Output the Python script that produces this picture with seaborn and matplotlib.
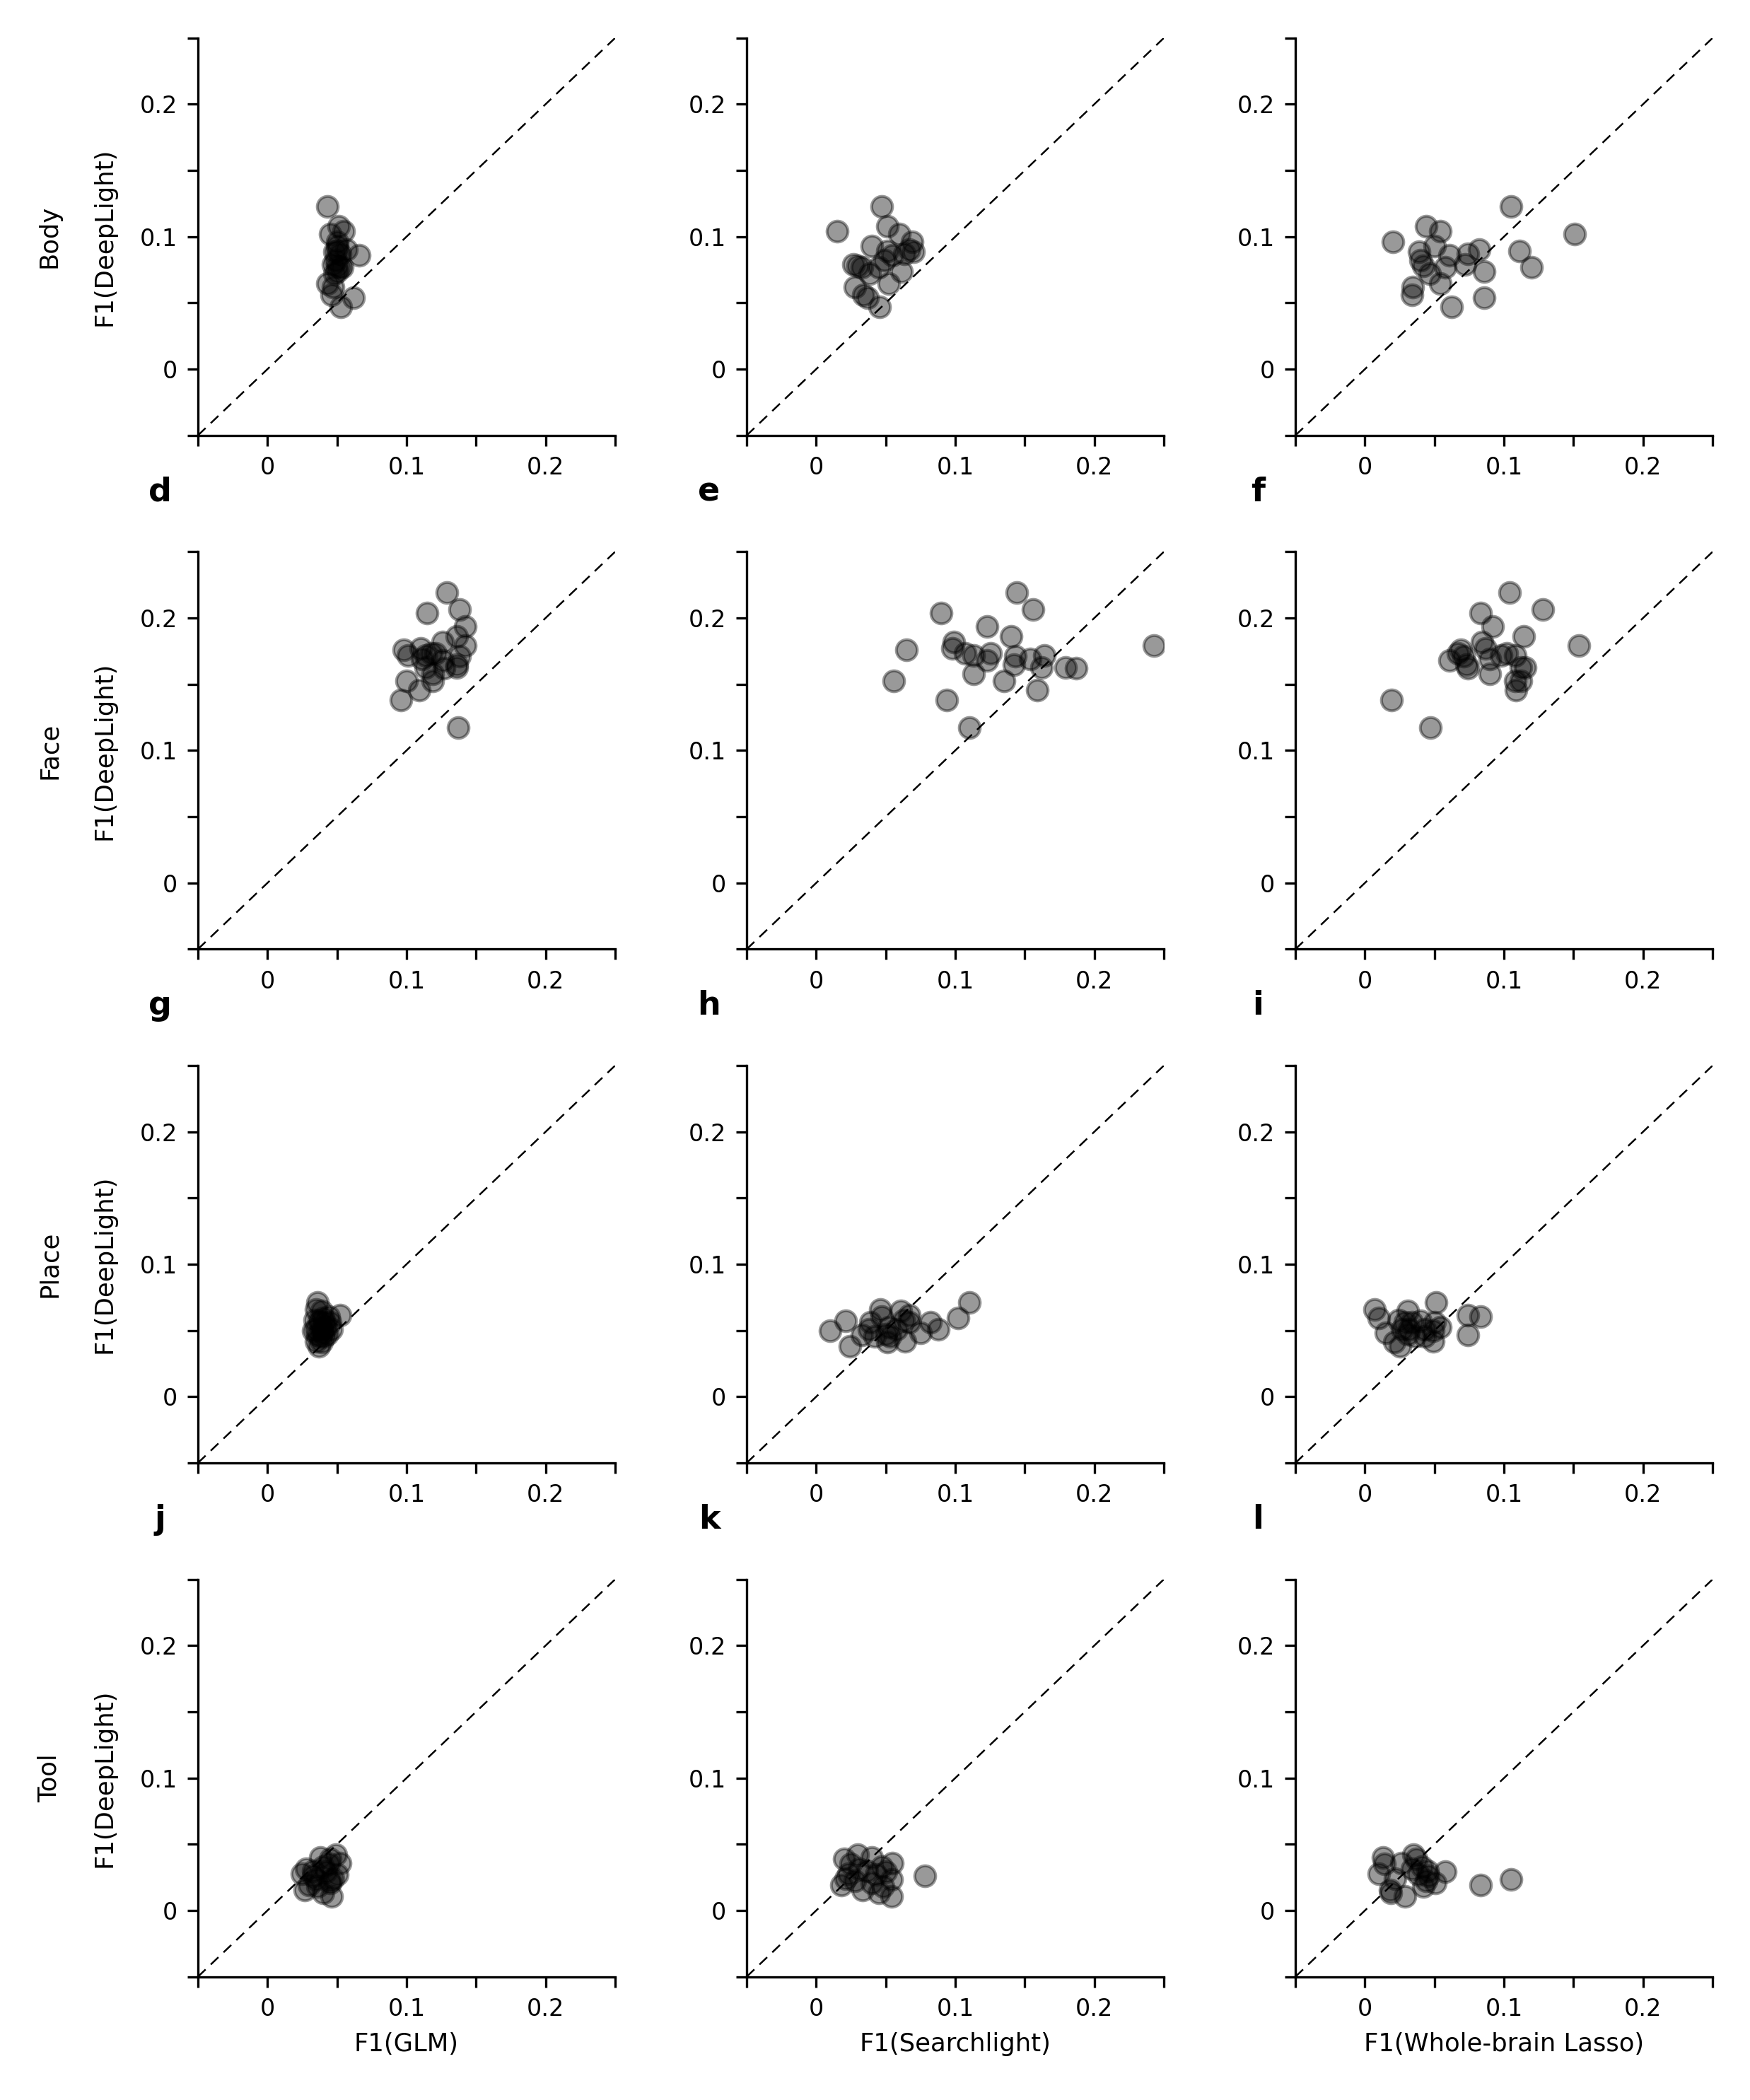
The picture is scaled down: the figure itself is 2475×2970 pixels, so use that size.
import numpy as np
import pandas as pd
import matplotlib
matplotlib.use("Agg")
import matplotlib.pyplot as plt
import seaborn as sns

sns.set_style("ticks")
plt.rcParams['font.family'] = ['DejaVu Sans']
for key in ['text.color', 'axes.labelcolor', 'xtick.color', 'ytick.color', 'axes.edgecolor']:
    plt.rcParams[key] = 'black'

FONT_SIZE = 8
LABEL_SIZE = 8.5
LETTER_SIZE = 11

# ============================================================
# data: F1 scores per subject, one list per row / method
# ============================================================
categories = ["Body", "Face", "Place", "Tool"]
methods = ["GLM", "Searchlight", "Whole-brain Lasso"]
panel_letters = [None, None, None, "d", "e", "f", "g", "h", "i", "j", "k", "l"]
tick_values = [-0.05, 0.0, 0.05, 0.1, 0.15, 0.2, 0.25]
tick_labels = ["", "0", "", "0.1", "", "0.2", ""]

# Body
body_deeplight = [0.123, 0.108, 0.104, 0.102, 0.096, 0.093, 0.0905, 0.089, 0.0887, 0.0868, 0.086, 0.0825,
                  0.079, 0.078, 0.077, 0.0767, 0.0737, 0.0719, 0.0648, 0.0621, 0.0559, 0.054, 0.047]
body_glm = [0.043, 0.051, 0.055, 0.045, 0.050, 0.050, 0.057, 0.050, 0.048, 0.052, 0.066, 0.049,
            0.047, 0.050, 0.052, 0.054, 0.050, 0.048, 0.043, 0.047, 0.046, 0.062, 0.053]
body_searchlight = [0.047, 0.051, 0.015, 0.060, 0.069, 0.040, 0.067, 0.051, 0.070, 0.0635, 0.055, 0.049,
                    0.027, 0.030, 0.045, 0.033, 0.0615, 0.0386, 0.0524, 0.0276, 0.034, 0.037, 0.0457]
body_lasso = [0.105, 0.044, 0.054, 0.151, 0.020, 0.050, 0.082, 0.111, 0.039, 0.074, 0.061, 0.040,
              0.072, 0.042, 0.120, 0.058, 0.0855, 0.0467, 0.054, 0.0346, 0.034, 0.0855, 0.0624]

# Face
face_deeplight = [0.219, 0.204, 0.2065, 0.1935, 0.186, 0.179, 0.182, 0.176, 0.177, 0.1735, 0.172, 0.1735, 0.168,
                  0.171, 0.172, 0.1646, 0.169, 0.1628, 0.1628, 0.162, 0.158, 0.1526, 0.1526, 0.1454, 0.1383, 0.1175]
face_glm = [0.129, 0.115, 0.138, 0.142, 0.136, 0.142, 0.126, 0.098, 0.110, 0.118, 0.101, 0.121, 0.126,
            0.138, 0.114, 0.136, 0.111, 0.136, 0.114, 0.127, 0.119, 0.100, 0.119, 0.109, 0.096, 0.137]
face_searchlight = [0.144, 0.090, 0.156, 0.123, 0.140, 0.243, 0.099, 0.065, 0.098, 0.107, 0.113, 0.1255, 0.123,
                    0.143, 0.164, 0.142, 0.154, 0.162, 0.1795, 0.187, 0.113, 0.135, 0.056, 0.159, 0.094, 0.110]
face_lasso = [0.104, 0.083, 0.128, 0.092, 0.114, 0.154, 0.084, 0.069, 0.087, 0.102, 0.098, 0.067, 0.061,
              0.071, 0.108, 0.073, 0.090, 0.112, 0.115, 0.074, 0.090, 0.108, 0.112, 0.1085, 0.019, 0.047]

# Place
place_deeplight = [0.071, 0.066, 0.0648, 0.0614, 0.0607, 0.0595, 0.058, 0.0575, 0.0564, 0.0564, 0.0564, 0.0527,
                   0.0509, 0.0509, 0.0509, 0.050, 0.0482, 0.0474, 0.0464, 0.0456, 0.0456, 0.042, 0.0412, 0.0379]
place_glm = [0.036, 0.035, 0.039, 0.052, 0.044, 0.040, 0.034, 0.037, 0.041, 0.045, 0.038, 0.042,
             0.035, 0.046, 0.039, 0.033, 0.040, 0.043, 0.036, 0.038, 0.041, 0.035, 0.039, 0.037]
place_searchlight = [0.110, 0.046, 0.061, 0.067, 0.047, 0.102, 0.063, 0.021, 0.039, 0.082, 0.067, 0.052,
                     0.088, 0.058, 0.038, 0.010, 0.075, 0.050, 0.033, 0.042, 0.053, 0.064, 0.051, 0.024]
place_lasso = [0.051, 0.007, 0.031, 0.074, 0.083, 0.010, 0.024, 0.040, 0.029, 0.050, 0.034, 0.054,
               0.032, 0.027, 0.043, 0.049, 0.015, 0.031, 0.074, 0.036, 0.043, 0.049, 0.021, 0.025]

# Tool
tool_deeplight = [0.042, 0.040, 0.0388, 0.0358, 0.035, 0.0331, 0.0313, 0.030, 0.0295, 0.0278, 0.027,
                  0.026, 0.0242, 0.0233, 0.0224, 0.0206, 0.0192, 0.0179, 0.0153, 0.0136, 0.0105]
tool_glm = [0.049, 0.038, 0.045, 0.052, 0.044, 0.040, 0.028, 0.033, 0.042, 0.025, 0.050,
            0.033, 0.047, 0.035, 0.045, 0.045, 0.030, 0.036, 0.027, 0.040, 0.046]
tool_searchlight = [0.030, 0.040, 0.020, 0.055, 0.025, 0.047, 0.031, 0.0365, 0.050, 0.023, 0.0433,
                    0.078, 0.0213, 0.054, 0.028, 0.040, 0.018, 0.048, 0.0335, 0.045, 0.054]
tool_lasso = [0.035, 0.013, 0.037, 0.026, 0.014, 0.041, 0.034, 0.045, 0.058, 0.010, 0.0387,
              0.0455, 0.0218, 0.105, 0.044, 0.0506, 0.083, 0.042, 0.018, 0.0184, 0.029]

rows = [
    (body_deeplight, [body_glm, body_searchlight, body_lasso]),
    (face_deeplight, [face_glm, face_searchlight, face_lasso]),
    (place_deeplight, [place_glm, place_searchlight, place_lasso]),
    (tool_deeplight, [tool_glm, tool_searchlight, tool_lasso]),
]

# ============================================================
# plotting
# ============================================================
fig, axes = plt.subplots(4, 3, figsize=(8.25, 9.9), dpi=300)
plt.subplots_adjust(left=0.1131, right=0.9786, bottom=0.0587, top=0.9819,
                    wspace=0.3154, hspace=0.293)

for r, (y_vals, x_lists) in enumerate(rows):
    for c, x_vals in enumerate(x_lists):
        ax = axes[r, c]
        df = pd.DataFrame({'x': x_vals, 'y': y_vals})
        ax.plot([-0.05, 0.25], [-0.05, 0.25], color='k', lw=0.6, dashes=(6, 4), zorder=1)
        sns.scatterplot(data=df, x='x', y='y', ax=ax, color='k', alpha=0.4,
                        edgecolor='k', linewidth=1.0, s=50, zorder=2)
        ax.set_xlim(-0.05, 0.25)
        ax.set_ylim(-0.05, 0.25)
        ax.set_xticks(tick_values)
        ax.set_xticklabels(tick_labels)
        ax.set_yticks(tick_values)
        ax.set_yticklabels(tick_labels)
        ax.tick_params(labelsize=FONT_SIZE, length=3.5, width=0.8)
        sns.despine(ax=ax)
        ax.set_xlabel('')
        ax.set_ylabel('')

        if c == 0:
            ax.set_ylabel('F1(DeepLight)', fontsize=LABEL_SIZE)
            ax.yaxis.set_label_coords(-0.195, 0.5)
            ax.text(-0.356, 0.5, categories[r], rotation=90, va='center', ha='center',
                    fontsize=LABEL_SIZE, transform=ax.transAxes)
        if r == 3:
            ax.set_xlabel('F1(' + methods[c] + ')', fontsize=LABEL_SIZE)

        letter = panel_letters[r * 3 + c]
        if letter:
            ax.text(-0.09, 1.15, letter, fontsize=LETTER_SIZE, fontweight='bold',
                    ha='center', va='center', transform=ax.transAxes)

plt.savefig('out.png', dpi=300)
plt.close()
